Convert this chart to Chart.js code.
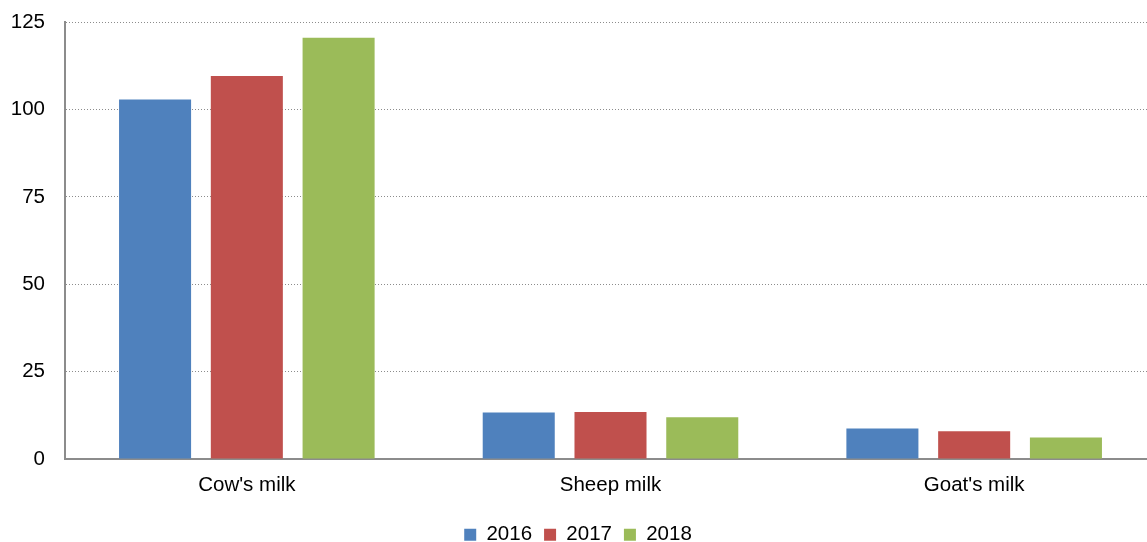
<!DOCTYPE html>
<html>
<head>
<meta charset="utf-8">
<script src="https://cdn.jsdelivr.net/npm/chart.js@4/dist/chart.umd.min.js"></script>
<style>
  html, body { margin: 0; padding: 0; background: #fff; overflow: hidden; }
  #box { width: 1147px; height: 542px; overflow: hidden; position: relative; }
  #inner { width: 1187px; height: 565px; position: absolute; top: -10px; left: 0; }
</style>
</head>
<body>
<div id="box"><div id="inner"><canvas id="grafico"></canvas></div></div>
<script>
// Dados do gráfico
const categorias = ["Cow's milk", "Sheep milk", "Goat's milk"];
const anos = ['2016', '2017', '2018'];
const valores2016 = [102.9, 13.3, 8.7];
const valores2017 = [109.6, 13.4, 7.9];
const valores2018 = [120.6, 11.9, 6.1];
const cores = ['#4F81BD', '#C0504D', '#9BBB59'];

const series = [valores2016, valores2017, valores2018];

const fonte = { family: 'Arial, "Liberation Sans", sans-serif', size: 20.5 };

new Chart(document.getElementById('grafico').getContext('2d'), {
    type: 'bar',
    data: {
        labels: categorias,
        datasets: series.map((v, i) => ({
            label: anos[i],
            data: v,
            backgroundColor: cores[i],
            categoryPercentage: 0.757,
            barPercentage: 0.785
        }))
    },
    options: {
        responsive: true,
        maintainAspectRatio: false,
        animation: false,
        layout: { padding: { top: 0, right: 31, bottom: 0, left: 0 } },
        plugins: {
            tooltip: { enabled: false },
            legend: {
                position: 'bottom',
                labels: {
                    font: fonte,
                    color: '#000',
                    boxWidth: 12,
                    boxHeight: 12,
                    padding: 12
                }
            }
        },
        scales: {
            x: {
                afterFit: s => { s.height += 1; },
                grid: { display: false, drawTicks: false },
                border: { display: true, color: '#8c8c8c', width: 2 },
                ticks: { font: fonte, color: '#000', padding: 14 }
            },
            y: {
                min: 0,
                max: 125,
                afterFit: s => { s.width = 65; },
                grid: {
                    color: '#8c8c8c',
                    lineWidth: 1,
                    drawTicks: false
                },
                border: { display: true, color: '#8c8c8c', width: 2, dash: [1, 2] },
                ticks: { stepSize: 25, font: fonte, color: '#000', padding: 20 }
            }
        }
    }
});
</script>
</body>
</html>
